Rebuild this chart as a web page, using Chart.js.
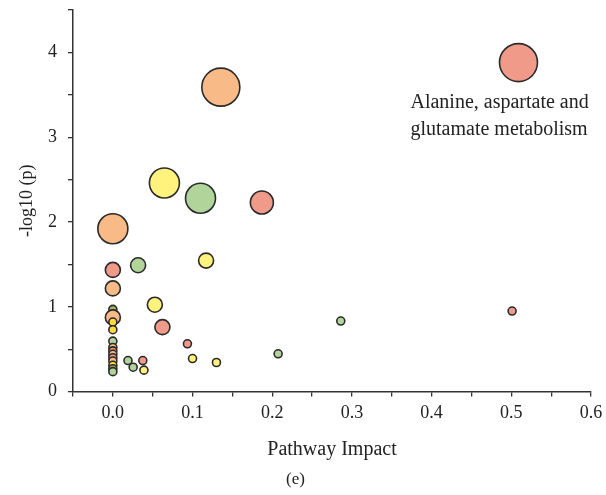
<!DOCTYPE html>
<html>
<head>
<meta charset="utf-8">
<script src="https://cdn.jsdelivr.net/npm/chart.js@4/dist/chart.umd.min.js"></script>
<style>
  html, body { margin: 0; padding: 0; background: #fff; }
  #wrap { width: 606px; height: 495px; position: relative; }
</style>
</head>
<body>
<div id="wrap"><canvas id="c" width="606" height="495"></canvas></div>
<script>
// ---- data ----
const pathwayNames = [
  "Alanine, aspartate and glutamate metabolism", "P2", "P3", "P4", "P5", "P6",
  "P7", "P8", "P9", "P10", "P11", "P12", "P13", "P14", "P15", "P16", "P17",
  "P18", "P19", "P20", "P21", "P22", "P23", "P24", "P25", "P26", "P27",
  "P28", "P29", "P30", "P31", "P32", "P33", "P34", "P35"
];
const pathwayImpact = [
  0.509, 0.1355, 0.0647, 0.110, 0.187, 0.0,
  0.0, 0.0317, 0.117, 0.0, 0.0527, 0.0, 0.0, 0.0622, 0.0, 0.0,
  0.501, 0.286, 0.0936, 0.0, 0.2074, 0.100, 0.130, 0.019, 0.0376, 0.0255, 0.039,
  0.0, 0.0, 0.0, 0.0, 0.0, 0.0, 0.0, 0.0
];
const negLog10P = [
  3.88, 3.59, 2.46, 2.28, 2.23, 1.92,
  1.435, 1.49, 1.545, 1.217, 1.025, 0.97, 0.875, 0.76, 0.82, 0.73,
  0.95, 0.832, 0.564, 0.595, 0.446, 0.39, 0.343, 0.366, 0.366, 0.288, 0.253,
  0.52, 0.48, 0.44, 0.40, 0.36, 0.31, 0.27, 0.235
];
const bubbleSize = [
  19, 19, 15, 15, 11.5, 15,
  7.5, 7.5, 7.5, 7.5, 7.5, 4, 7.5, 7.5, 4, 4,
  4, 4, 4, 4, 4, 4, 4, 4, 4, 4, 4,
  4, 4, 4, 4, 4, 4, 4, 4
];
const colorGroup = [
  "red", "orange", "yellow", "green", "red", "orange",
  "red", "green", "yellow", "orange", "yellow", "olive", "orange", "red", "gold", "gold",
  "red", "green", "red", "green", "green", "yellow", "yellow", "green", "red", "green", "yellow",
  "orange", "redorange", "orange", "red", "orange", "gold", "olive", "green"
];
const xTickValues = [0.0, 0.1, 0.2, 0.3, 0.4, 0.5, 0.6];
const yTickValues = [0, 1, 2, 3, 4];

// ---- styling ----
const palette = {
  red: "#F09A8A",
  orange: "#F8BA87",
  yellow: "#FFF27D",
  green: "#B1D49A",
  gold: "#FFDB3A",
  olive: "#A4B25E",
  redorange: "#EE8E5E"
};
const SERIF = "'Liberation Serif', 'DejaVu Serif', serif";

const points = pathwayImpact.map((x, i) => ({ x: x, y: negLog10P[i], r: bubbleSize[i] }));

const annotatePlugin = {
  id: 'annot',
  afterDatasetsDraw(chart) {
    const { ctx, scales } = chart;
    const px = scales.x.getPixelForValue(pathwayImpact[0]);
    const py = scales.y.getPixelForValue(negLog10P[0]);
    ctx.save();
    ctx.font = "20px " + SERIF;
    ctx.fillStyle = "#222";
    ctx.textAlign = "left";
    ctx.textBaseline = "alphabetic";
    ctx.fillText("Alanine, aspartate and", px - 108, py + 45);
    ctx.fillText("glutamate metabolism", px - 108, py + 72);
    ctx.restore();
  }
};

new Chart(document.getElementById('c'), {
  type: 'bubble',
  data: {
    datasets: [{
      data: points,
      backgroundColor: colorGroup.map(g => palette[g]),
      borderColor: "#2a2a2a",
      borderWidth: 1.6,
      hoverBorderWidth: 1.6,
      clip: false
    }]
  },
  options: {
    responsive: false,
    animation: false,
    events: [],
    layout: { autoPadding: false, padding: { top: 10, left: 0, right: 15, bottom: 5 } },
    plugins: {
      legend: { display: false },
      tooltip: { enabled: false },
      title: {
        display: true,
        position: 'bottom',
        text: '(e)',
        color: '#222',
        font: { family: SERIF, size: 17, weight: 'normal' },
        padding: { top: 0, bottom: 0 }
      }
    },
    scales: {
      x: {
        type: 'linear',
        min: -0.05,
        max: 0.6,
        afterBuildTicks(scale) {
          const t = [];
          for (let k = -1; k <= 12; k++) t.push({ value: k * 0.05 });
          scale.ticks = t;
        },
        afterFit(scale) {
          scale.height = 78;
          scale.paddingLeft = 0;
          scale.paddingRight = 0;
        },
        ticks: {
          autoSkip: false,
          maxRotation: 0,
          padding: 6,
          color: '#222',
          font: { family: SERIF, size: 18 },
          callback(v) {
            const k = Math.round(v * 100);
            if (k % 10 !== 0) return '';
            const val = k / 100;
            return xTickValues.includes(val) ? val.toFixed(1) : '';
          }
        },
        grid: { drawOnChartArea: false, drawTicks: true, tickLength: 5, color: '#333', tickColor: '#333', lineWidth: 1.3 },
        border: { display: true, color: '#333', width: 1.5 },
        title: {
          display: true,
          text: 'Pathway Impact',
          color: '#222',
          font: { family: SERIF, size: 20 },
          padding: { top: 0, bottom: 8 }
        }
      },
      y: {
        type: 'linear',
        min: 0,
        max: 4.5,
        afterBuildTicks(scale) {
          const t = [];
          for (let k = 0; k <= 9; k++) t.push({ value: k * 0.5 });
          scale.ticks = t;
        },
        afterFit(scale) {
          scale.width = 73;
          scale.paddingTop = 0;
          scale.paddingBottom = 0;
        },
        ticks: {
          autoSkip: false,
          padding: 11,
          color: '#222',
          font: { family: SERIF, size: 18 },
          callback(v) {
            const k = Math.round(v * 10);
            if (k % 10 !== 0) return '';
            const val = k / 10;
            return yTickValues.includes(val) ? String(val) : '';
          }
        },
        grid: { drawOnChartArea: false, drawTicks: true, tickLength: 5, color: '#333', tickColor: '#333', lineWidth: 1.3 },
        border: { display: true, color: '#333', width: 1.5 },
        title: {
          display: true,
          text: '-log10 (p)',
          color: '#222',
          font: { family: SERIF, size: 18 },
          padding: { top: 16, bottom: 0 }
        }
      }
    }
  },
  plugins: [annotatePlugin]
});
</script>
</body>
</html>
